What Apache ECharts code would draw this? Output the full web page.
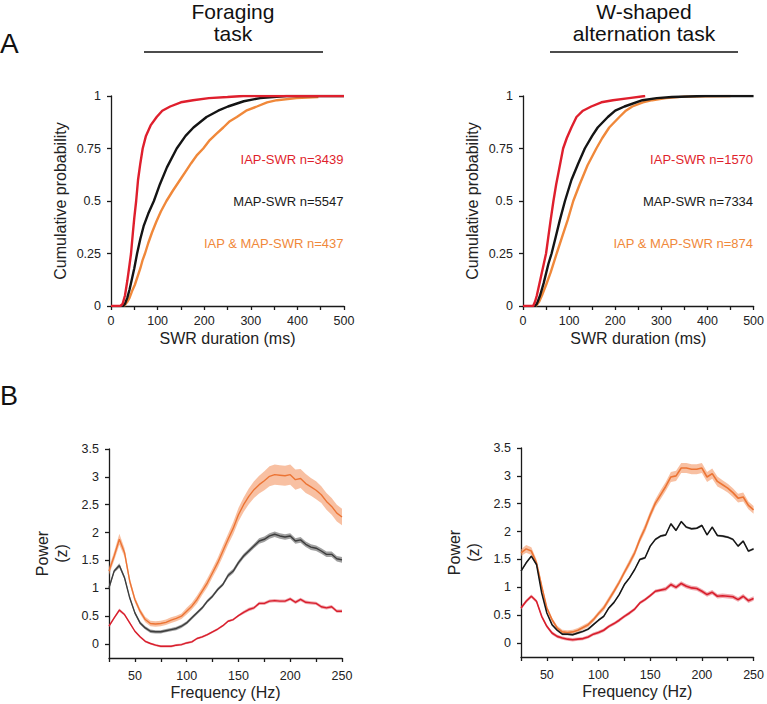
<!DOCTYPE html>
<html><head><meta charset="utf-8">
<script src="https://cdn.jsdelivr.net/npm/echarts@6/dist/echarts.min.js"></script>
<style>html,body{margin:0;padding:0;background:#fff}#c{width:767px;height:704px}</style>
</head><body><div id="c"></div>
<script>
// ---------- Panel A: cumulative distributions of SWR duration (ms, probability) ----------
const foragingIAP = [[0,0],[20,0],[25,0.01],[30,0.05],[35,0.12],[40,0.2],[43,0.25],[47,0.35],[50,0.42],[54,0.5],[58,0.6],[63,0.68],[68,0.75],[75,0.81],[85,0.86],[98,0.9],[110,0.93],[127,0.95],[150,0.97],[176,0.98],[210,0.99],[250,0.995],[284,1],[500,1]];
const foragingMAP = [[25,0],[30,0.01],[35,0.04],[40,0.08],[45,0.13],[50,0.18],[56,0.25],[63,0.32],[70,0.38],[80,0.44],[92,0.5],[105,0.58],[120,0.66],[141,0.75],[160,0.81],[177,0.85],[205,0.9],[230,0.93],[251,0.95],[285,0.975],[320,0.99],[377,1],[500,1]];
const foragingBoth = [[28,0],[35,0.02],[40,0.04],[45,0.07],[51,0.1],[57,0.14],[63,0.18],[68,0.22],[73,0.25],[80,0.3],[88,0.35],[97,0.4],[107,0.45],[119,0.5],[133,0.55],[148,0.6],[160,0.64],[172,0.68],[185,0.72],[198,0.75],[212,0.79],[226,0.82],[241,0.85],[255,0.88],[270,0.9],[290,0.93],[313,0.95],[335,0.97],[356,0.98],[398,0.99],[445,0.995]];
const wIAP = [[0,0],[22,0],[26,0.02],[30,0.05],[35,0.1],[40,0.15],[45,0.2],[50,0.25],[55,0.33],[60,0.41],[66,0.5],[72,0.58],[80,0.67],[87,0.75],[95,0.8],[105,0.85],[116,0.9],[130,0.93],[148,0.95],[170,0.97],[195,0.98],[230,0.99],[265,1]];
const wMAP = [[25,0],[30,0.01],[37,0.05],[45,0.11],[55,0.2],[62,0.25],[70,0.32],[80,0.41],[91,0.5],[105,0.6],[120,0.68],[134,0.75],[150,0.81],[162,0.85],[184,0.9],[200,0.93],[220,0.95],[259,0.98],[290,0.99],[323,0.995],[395,1],[500,1]];
const wBoth = [[28,0],[35,0.02],[41,0.05],[50,0.1],[60,0.16],[73,0.25],[85,0.33],[97,0.41],[109,0.5],[123,0.58],[140,0.67],[159,0.75],[172,0.8],[187,0.85],[209,0.9],[223,0.93],[237,0.95],[260,0.97],[280,0.98],[310,0.99],[350,0.997],[450,1]];
const foragingLabels = ['IAP-SWR n=3439','MAP-SWR n=5547','IAP & MAP-SWR n=437'];
const wLabels = ['IAP-SWR n=1570','MAP-SWR n=7334','IAP & MAP-SWR n=874'];
const labelLevels = [0.7, 0.5, 0.3];
const durTicks = [0,100,200,300,400,500];

// ---------- Panel B: power spectra (Hz, z) ----------
const freq = [25,30,35,40,45,50,55,60,65,70,75,80,85,90,95,100,105,110,115,120,125,130,135,140,145,150,155,160,165,170,175,180,185,190,195,200,205,210,215,220,225,230,235,240,245,250];
const fBothMean = [1.31,1.58,1.88,1.64,1.13,0.80,0.59,0.44,0.37,0.36,0.37,0.39,0.43,0.46,0.50,0.59,0.68,0.80,0.95,1.10,1.28,1.46,1.67,1.88,2.08,2.32,2.50,2.65,2.77,2.86,2.93,3.01,3.04,3.03,3.02,3.04,2.95,2.97,2.88,2.82,2.76,2.68,2.56,2.47,2.35,2.28];
const fBothSem  = [0.07,0.08,0.10,0.08,0.06,0.05,0.05,0.05,0.05,0.05,0.05,0.05,0.05,0.05,0.05,0.06,0.06,0.07,0.07,0.08,0.08,0.09,0.10,0.10,0.11,0.12,0.13,0.14,0.15,0.16,0.17,0.18,0.18,0.18,0.18,0.18,0.18,0.17,0.17,0.16,0.16,0.15,0.15,0.15,0.15,0.15];
const fMAPMean  = [1.01,1.31,1.41,1.19,0.83,0.56,0.38,0.29,0.23,0.22,0.22,0.24,0.26,0.28,0.32,0.38,0.47,0.56,0.65,0.77,0.86,0.98,1.07,1.23,1.31,1.46,1.58,1.67,1.76,1.85,1.88,1.94,1.97,1.94,1.92,1.94,1.85,1.87,1.79,1.74,1.72,1.67,1.61,1.61,1.53,1.51];
const fMAPSem   = [0.03,0.03,0.04,0.03,0.03,0.03,0.03,0.03,0.03,0.03,0.03,0.03,0.03,0.03,0.03,0.03,0.03,0.03,0.03,0.03,0.03,0.03,0.03,0.04,0.04,0.04,0.04,0.04,0.04,0.05,0.05,0.05,0.05,0.05,0.05,0.05,0.05,0.05,0.05,0.05,0.05,0.05,0.05,0.05,0.05,0.05];
const fIAPMean  = [0.32,0.47,0.61,0.53,0.38,0.23,0.13,0.05,0.01,-0.02,-0.04,-0.04,-0.04,-0.02,-0.01,0.02,0.04,0.10,0.13,0.17,0.22,0.27,0.33,0.41,0.44,0.51,0.57,0.62,0.65,0.73,0.73,0.77,0.78,0.77,0.77,0.81,0.75,0.80,0.75,0.74,0.73,0.67,0.65,0.67,0.59,0.59];
const fIAPSem   = [0.02,0.02,0.03,0.02,0.02,0.02,0.02,0.02,0.02,0.02,0.02,0.02,0.02,0.02,0.02,0.02,0.02,0.02,0.02,0.02,0.02,0.02,0.02,0.02,0.02,0.02,0.03,0.03,0.03,0.03,0.03,0.03,0.03,0.03,0.03,0.03,0.03,0.03,0.03,0.03,0.03,0.03,0.03,0.03,0.03,0.03];
const wBothMean = [1.62,1.69,1.65,1.44,1.02,0.63,0.42,0.27,0.20,0.19,0.20,0.23,0.28,0.33,0.42,0.53,0.63,0.78,0.93,1.09,1.27,1.44,1.62,1.86,2.06,2.30,2.51,2.66,2.81,2.98,3.00,3.14,3.14,3.12,3.12,3.14,2.98,3.04,2.90,2.84,2.78,2.70,2.60,2.62,2.47,2.39];
const wBothSem  = [0.06,0.07,0.07,0.06,0.05,0.04,0.04,0.04,0.04,0.04,0.04,0.04,0.04,0.04,0.04,0.04,0.05,0.05,0.05,0.05,0.05,0.06,0.06,0.06,0.07,0.07,0.07,0.08,0.08,0.09,0.09,0.09,0.09,0.09,0.09,0.09,0.09,0.09,0.09,0.08,0.08,0.08,0.08,0.08,0.07,0.07];
const wMAPMean  = [1.29,1.44,1.56,1.41,0.90,0.54,0.33,0.23,0.16,0.16,0.15,0.18,0.21,0.25,0.33,0.41,0.48,0.63,0.73,0.87,1.05,1.17,1.32,1.50,1.53,1.74,1.86,1.92,1.94,2.14,2.02,2.18,2.08,2.05,2.06,2.11,1.94,2.08,1.93,1.92,1.90,1.86,1.74,1.83,1.65,1.69];
const wMAPSem   = [0.02,0.02,0.02,0.02,0.02,0.02,0.02,0.02,0.02,0.02,0.02,0.02,0.02,0.02,0.02,0.02,0.02,0.02,0.02,0.02,0.02,0.02,0.02,0.02,0.02,0.02,0.02,0.02,0.02,0.02,0.02,0.02,0.02,0.02,0.02,0.02,0.02,0.02,0.02,0.02,0.02,0.02,0.02,0.02,0.02,0.02];
const wIAPMean  = [0.63,0.75,0.84,0.75,0.48,0.30,0.18,0.12,0.09,0.07,0.06,0.07,0.08,0.11,0.16,0.19,0.23,0.30,0.35,0.41,0.48,0.54,0.61,0.72,0.78,0.85,0.93,0.95,0.97,1.05,1.00,1.07,1.02,0.99,0.98,0.93,0.87,0.91,0.84,0.85,0.84,0.83,0.78,0.84,0.76,0.80];
const wIAPSem   = [0.03,0.03,0.03,0.03,0.03,0.03,0.03,0.03,0.03,0.03,0.03,0.03,0.03,0.03,0.03,0.03,0.03,0.03,0.03,0.03,0.03,0.03,0.03,0.03,0.03,0.03,0.03,0.03,0.04,0.04,0.04,0.04,0.04,0.04,0.04,0.04,0.04,0.04,0.04,0.04,0.04,0.04,0.04,0.04,0.04,0.04];
const powerTicks = [0,0.5,1,1.5,2,2.5,3,3.5];

// ---------- styling ----------
const FONT = '"Liberation Sans", Arial, Helvetica, sans-serif';
const RED = '#df1f2d', BLACK = '#141414', ORANGE = '#f0883a';
const AX = '#1a1a1a';

const chart = echarts.init(document.getElementById('c'), null, {renderer: 'svg'});

function baseAxis(extra) {
  return Object.assign({
    axisLine: {show: true, onZero: false, lineStyle: {color: AX, width: 1.3}},
    axisTick: {show: true, length: 4, lineStyle: {color: AX, width: 1.3}},
    splitLine: {show: false},
    nameTextStyle: {fontFamily: FONT, fontSize: 16, color: '#222'},
    nameLocation: 'middle'
  }, extra);
}
const durX = (g) => baseAxis({gridIndex: g, type: 'value', min: 0, max: 500, interval: 50,
  name: 'SWR duration (ms)', nameGap: 24,
  axisLabel: {fontFamily: FONT, fontSize: 12.5, color: '#222', margin: 8,
    formatter: v => durTicks.indexOf(v) >= 0 ? String(v) : ''}});
const probY = (g) => baseAxis({gridIndex: g, type: 'value', min: 0, max: 1, interval: 0.25,
  name: 'Cumulative probability', nameGap: 43,
  axisLabel: {fontFamily: FONT, fontSize: 12.5, color: '#222', margin: 10}});
const freqX = (g) => baseAxis({gridIndex: g, type: 'value', min: 25, max: 250, interval: 25,
  name: 'Frequency (Hz)', nameGap: 26,
  axisLabel: {fontFamily: FONT, fontSize: 12.5, color: '#222', margin: 11,
    formatter: v => v % 50 === 0 ? String(v) : ''}});
const powY = (g) => baseAxis({gridIndex: g, type: 'value', min: -0.25, max: 3.5,
  name: 'Power\n(z)', nameGap: 38,
  nameTextStyle: {fontFamily: FONT, fontSize: 16, color: '#222', lineHeight: 19},
  axisTick: {show: true, length: 4, lineStyle: {color: AX, width: 1.3}, customValues: powerTicks},
  axisLabel: {fontFamily: FONT, fontSize: 12.5, color: '#222', margin: 10, customValues: powerTicks}});

const series = [];
function cdf(idx, data, color) {
  series.push({type: 'line', xAxisIndex: idx, yAxisIndex: idx, data: data, showSymbol: false,
    symbol: 'none', lineStyle: {color: color, width: 2.4}, itemStyle: {color: color}, silent: true, z: 3});
}
function notes(idx, texts) {
  const cols = [RED, '#1a1a1a', ORANGE];
  texts.forEach((t, i) => {
    series.push({type: 'scatter', xAxisIndex: idx, yAxisIndex: idx, data: [[500, labelLevels[i]]],
      symbolSize: 1, itemStyle: {color: 'rgba(255,255,255,0)'}, silent: true, z: 5,
      label: {show: true, position: 'left', distance: 0, formatter: t, color: cols[i],
        fontFamily: FONT, fontSize: 13, opacity: 1}});
  });
}
function band(idx, mean, sem, lineColor, fillColor, lw) {
  const rows = freq.map((f, i) => [f, +(mean[i] - sem[i]).toFixed(3), +(mean[i] + sem[i]).toFixed(3)]);
  series.push({type: 'custom', xAxisIndex: idx, yAxisIndex: idx, data: rows, silent: true, z: 1,
    renderItem: function (params, api) {
      if (params.dataIndex !== 0) return null;
      const up = rows.map(r => api.coord([r[0], r[2]]));
      const lo = rows.map(r => api.coord([r[0], r[1]])).reverse();
      return {type: 'polygon', shape: {points: up.concat(lo)}, style: {fill: fillColor, stroke: null}};
    }});
  series.push({type: 'line', xAxisIndex: idx, yAxisIndex: idx,
    data: freq.map((f, i) => [f, mean[i]]), symbol: 'none',
    lineStyle: {color: lineColor, width: lw}, silent: true, z: 2});
}

// Panel A
cdf(0, foragingBoth, ORANGE); cdf(0, foragingMAP, BLACK); cdf(0, foragingIAP, RED);
notes(0, foragingLabels);
cdf(1, wBoth, ORANGE); cdf(1, wMAP, BLACK); cdf(1, wIAP, RED);
notes(1, wLabels);
// Panel B
band(2, fBothMean, fBothSem, '#ec7434', 'rgba(243,150,100,0.6)', 1.4);
band(2, fMAPMean, fMAPSem, '#3d3d3d', 'rgba(120,120,120,0.7)', 1.4);
band(2, fIAPMean, fIAPSem, '#d81e2c', 'rgba(230,110,120,0.6)', 1.4);
band(3, wBothMean, wBothSem, '#ec7434', 'rgba(243,150,100,0.6)', 1.6);
band(3, wMAPMean, wMAPSem, '#161616', 'rgba(90,90,90,0.6)', 1.5);
band(3, wIAPMean, wIAPSem, '#d81e2c', 'rgba(230,110,120,0.6)', 1.6);

const txt = (text, x, y, size, align) => ({type: 'text', silent: true,
  style: {text: text, x: x, y: y, fill: '#111', font: size + 'px ' + FONT,
    textAlign: align, textVerticalAlign: 'middle'}});

chart.setOption({
  backgroundColor: '#ffffff',
  animation: false,
  grid: [
    {left: 111, top: 96, width: 233, height: 210},
    {left: 523, top: 96, width: 233, height: 210},
    {left: 109, top: 449, width: 233, height: 209},
    {left: 521, top: 448, width: 233, height: 209}
  ],
  xAxis: [durX(0), durX(1), freqX(2), freqX(3)],
  yAxis: [probY(0), probY(1), powY(2), powY(3)],
  series: series,
  graphic: [
    txt('A', 0, 43, 28, 'left'),
    txt('B', 0, 396, 27, 'left'),
    txt('Foraging', 233, 11, 21, 'center'),
    txt('task', 233, 33, 21, 'center'),
    txt('W-shaped', 644, 11, 21, 'center'),
    txt('alternation task', 644, 33, 21, 'center'),
    {type: 'line', silent: true, shape: {x1: 144, y1: 52, x2: 323, y2: 52}, style: {stroke: '#111', lineWidth: 1.6}},
    {type: 'line', silent: true, shape: {x1: 550, y1: 52, x2: 738, y2: 52}, style: {stroke: '#111', lineWidth: 1.6}}
  ]
});
</script>
</body></html>
